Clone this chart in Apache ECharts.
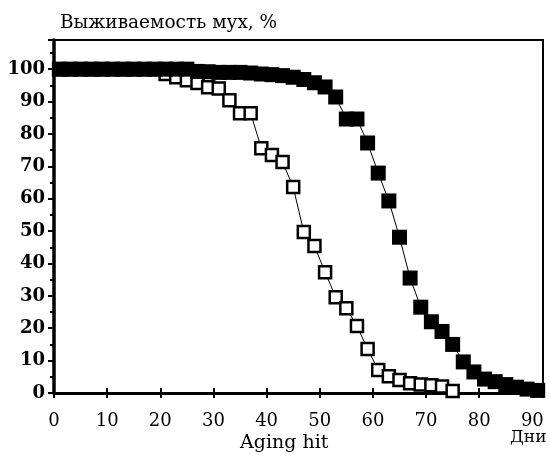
<!DOCTYPE html>
<html>
<head>
<meta charset="utf-8">
<script src="https://cdn.jsdelivr.net/npm/echarts@6/dist/echarts.min.js"></script>
<style>
    html, body { margin: 0; padding: 0; background: #fff; }
    #chart { width: 550px; height: 462px; }
</style>
</head>
<body>
<div id="chart"></div>
<script>
// дни наблюдения (контроль, закрашенные квадраты)
const controlDays = [1, 3, 5, 7, 9, 11, 13, 15, 17, 19, 21, 23, 25, 27, 29, 31, 33, 35, 37, 39,
    41, 43, 45, 47, 49, 51, 53, 55, 57, 59, 61, 63, 65, 67, 69, 71, 73, 75, 77, 79,
    81, 83, 85, 87, 89, 91];
const controlSurv = [100, 100, 100, 100, 100, 100, 100, 100, 100, 100, 100, 100, 100, 99.3, 99.2, 99, 99, 99, 98.8, 98.5,
    98.3, 98, 97.5, 96.8, 95.8, 94.5, 91.4, 84.6, 84.6, 77.2, 67.9, 59.3, 48.1, 35.5, 26.5, 22, 19, 15, 9.6, 6.5,
    4.3, 3.5, 2.6, 1.8, 1.2, 0.8];

// Aging hit (пустые квадраты)
const agingDays = [1, 3, 5, 7, 9, 11, 13, 15, 17, 19, 21, 23, 25, 27, 29, 31, 33, 35, 37, 39,
    41, 43, 45, 47, 49, 51, 53, 55, 57, 59, 61, 63, 65, 67, 69, 71, 73, 75];
const agingSurv = [100, 100, 100, 100, 100, 100, 100, 100, 100, 100, 98.5, 97.5, 96.6, 95.7, 94.4, 94, 90.4, 86.4, 86.4, 75.6,
    73.5, 71.3, 63.6, 49.7, 45.4, 37.3, 29.6, 26.2, 20.7, 13.6, 7.1, 5.2, 4, 3, 2.6, 2.4, 2, 0.6];

const xTicks = [0, 10, 20, 30, 40, 50, 60, 70, 80, 90];
const yTicks = [0, 10, 20, 30, 40, 50, 60, 70, 80, 90, 100];

const serif = 'DejaVu Serif';

const toPairs = (xs, ys) => xs.map((x, i) => [x, ys[i]]);

const myChart = echarts.init(document.getElementById('chart'));
const option = {
    animation: false,
    title: [
        {
            text: 'Выживаемость мух, %',
            left: 55,
            top: 9,
            textStyle: { fontFamily: serif, fontSize: 18.5, fontWeight: 'normal', color: '#000' }
        },
        {
            text: 'Aging hit',
            left: 235,
            top: 429,
            textStyle: { fontFamily: serif, fontSize: 19, fontWeight: 'normal', color: '#000' }
        },
        {
            text: 'Дни',
            left: 505,
            top: 424,
            textStyle: { fontFamily: serif, fontSize: 17, fontWeight: 'normal', color: '#000' }
        }
    ],
    grid: {
        left: 54,
        right: 7,
        top: 40,
        bottom: 69,
        show: true,
        borderColor: '#000',
        borderWidth: 2
    },
    xAxis: [
        {
            type: 'value',
            min: 0,
            max: 92,
            interval: 10,
            splitLine: { show: false },
            axisLine: { lineStyle: { color: '#000', width: 3 } },
            axisTick: { inside: false, length: 5, lineStyle: { color: '#000', width: 2 } },
            axisLabel: {
                margin: 19,
                color: '#000',
                fontFamily: serif,
                fontSize: 18,
                formatter: v => (xTicks.includes(v) ? String(v) : '')
            }
        },
        {
            // тики внутрь, чтобы они пересекали ось
            type: 'value',
            position: 'bottom',
            min: 0,
            max: 92,
            interval: 10,
            splitLine: { show: false },
            axisLine: { show: false },
            axisTick: { inside: true, length: 5, lineStyle: { color: '#000', width: 2 } },
            axisLabel: { show: false }
        }
    ],
    yAxis: {
        type: 'value',
        min: 0,
        max: 109,
        interval: 10,
        splitLine: { show: false },
        axisLine: { lineStyle: { color: '#000', width: 3.5 } },
        axisTick: { length: 6, lineStyle: { color: '#000', width: 2 } },
        minorTick: { show: true, splitNumber: 2, length: 4, lineStyle: { color: '#000', width: 2 } },
        axisLabel: {
            margin: 9,
            color: '#000',
            fontFamily: serif,
            fontWeight: 'bold',
            fontSize: 18,
            formatter: v => (yTicks.includes(v) ? String(v) : '')
        }
    },
    series: [
        {
            name: 'Aging hit',
            type: 'line',
            z: 2,
            data: toPairs(agingDays, agingSurv),
            symbol: 'rect',
            symbolSize: 12,
            showAllSymbol: true,
            lineStyle: { color: '#000', width: 1 },
            itemStyle: { color: '#fff', borderColor: '#000', borderWidth: 2.5 }
        },
        {
            name: 'Контроль',
            type: 'line',
            z: 3,
            data: toPairs(controlDays, controlSurv),
            symbol: 'rect',
            symbolSize: 15,
            showAllSymbol: true,
            lineStyle: { color: '#000', width: 1 },
            itemStyle: { color: '#000', borderColor: '#000', borderWidth: 0 }
        }
    ]
};
myChart.setOption(option);
</script>
</body>
</html>
